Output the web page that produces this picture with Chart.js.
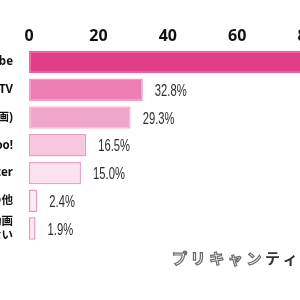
<!DOCTYPE html>
<html>
<head>
<meta charset="utf-8">
<script src="https://cdn.jsdelivr.net/npm/chart.js@4.4.1/dist/chart.umd.min.js"></script>
<style>
  html, body { margin: 0; padding: 0; background: #fff; }
  #wrap { position: relative; width: 300px; height: 300px; overflow: hidden; background: #fff; }
  #c { position: absolute; left: -91px; top: 0; }
  #mark { position: absolute; left: 172px; top: 250px; font-family: "Noto Sans CJK JP", sans-serif; font-weight: 700; font-size: 15px; line-height: 15px; letter-spacing: 3.6px; white-space: nowrap; }
  #mark .o { color: #fff; -webkit-text-stroke: 1.2px #6a6a6a; }
  #mark .f { color: #333; }
</style>
</head>
<body>
<div id="wrap">
  <canvas id="c" width="500" height="300"></canvas>
  <div id="mark"><span class="o">プリキャン</span><span class="f">ティーンズ</span></div>
</div>
<script>
const categories = ["YouTube", "AbemaTV", "Instagram(動画)", "Yahoo!", "Twitter", "その他", ["ネットで動画", "は見ない"]];
const values = [85.3, 32.8, 29.3, 16.5, 15.0, 2.4, 1.9];
const tickValues = [0, 20, 40, 60, 80, 100];
const fillColors = ["#e03f88", "#ec7eb3", "#f1a5cb", "#f7c6df", "#fce2ee", "#fcebf3", "#fcebf3"];
const borderColors = ["#e8639e", "#f29ac4", "#f5b6d6", "#e99bc4", "#eaa1c8", "#e79bc3", "#e79bc3"];

const valueLabels = {
  id: 'valueLabels',
  afterDatasetsDraw(chart) {
    const ctx = chart.ctx;
    const meta = chart.getDatasetMeta(0);
    const sx = 0.66;
    meta.data.forEach((bar, i) => {
      ctx.save();
      ctx.translate(bar.x + 12, bar.y + 1.5);
      ctx.scale(sx, 1);
      ctx.font = '17px "Liberation Sans", "DejaVu Sans", sans-serif';
      ctx.fillStyle = '#2e2e2e';
      ctx.textAlign = 'left';
      ctx.textBaseline = 'middle';
      ctx.fillText(values[i].toFixed(1) + '%', 0, 0);
      ctx.restore();
    });
  }
};

new Chart(document.getElementById('c'), {
  type: 'bar',
  data: {
    labels: categories,
    datasets: [{
      data: values,
      backgroundColor: fillColors,
      borderColor: borderColors,
      borderWidth: 1.5,
      borderSkipped: false,
      barPercentage: 1,
      categoryPercentage: 0.81
    }]
  },
  options: {
    indexAxis: 'y',
    responsive: false,
    animation: false,
    devicePixelRatio: 1,
    layout: { padding: { top: 25, bottom: 57.6, left: 0, right: 33 } },
    plugins: { legend: { display: false }, tooltip: { enabled: false } },
    scales: {
      x: {
        position: 'top',
        min: 0,
        max: 100,
        afterBuildTicks(scale) { scale.ticks = tickValues.map(v => ({ value: v })); },
        grid: { display: false, drawTicks: false },
        border: { display: false },
        ticks: {
          padding: 2,
          autoSkip: false,
          maxRotation: 0,
          color: '#111',
          font: { family: '"Noto Sans", "Open Sans", sans-serif', size: 16, weight: 'bold' }
        }
      },
      y: {
        afterFit(scale) { scale.width = 120; },
        grid: { display: false, drawTicks: false },
        border: { display: false },
        ticks: {
          padding: 16,
          autoSkip: false,
          color: '#111',
          font: { family: '"Noto Sans", "Noto Sans CJK JP", sans-serif', size: 11.5, weight: 'bold', lineHeight: 1.25 }
        }
      }
    }
  },
  plugins: [valueLabels]
});
</script>
</body>
</html>
